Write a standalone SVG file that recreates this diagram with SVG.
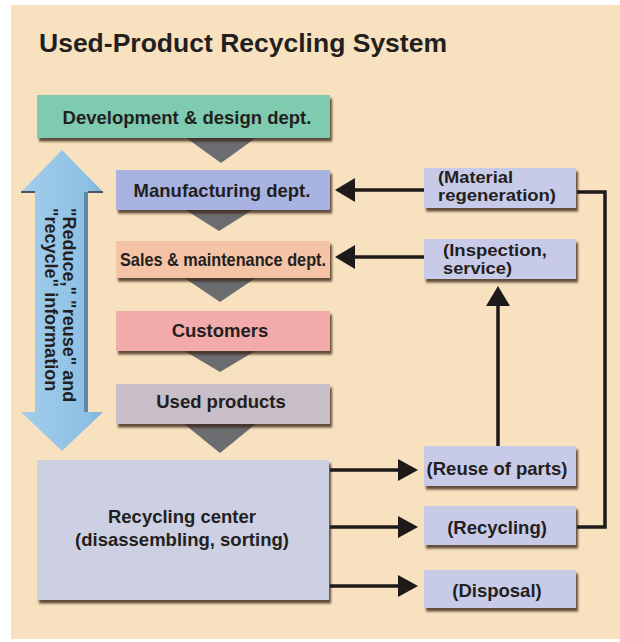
<svg xmlns="http://www.w3.org/2000/svg" width="620" height="642" viewBox="0 0 620 642">
<defs>
<style>
text{font-family:"Liberation Sans",Arial,sans-serif;font-weight:bold;fill:#231f20}
.lbl{font-size:18.5px;text-anchor:middle}
.rl{font-size:16.5px}
.box{filter:url(#sh)}
.tri{fill:#6b6c6f}
.con{fill:none;stroke:#1e1a1a;stroke-width:3.5}
</style>
<filter id="sh" x="-5%" y="-10%" width="115%" height="130%">
<feDropShadow dx="2" dy="3.5" stdDeviation="1.3" flood-color="#3a2614" flood-opacity="0.8"/>
</filter>
<marker id="ah" viewBox="0 0 20 24" refX="0" refY="12" markerWidth="20" markerHeight="24" orient="auto" markerUnits="userSpaceOnUse">
<path d="M0,0 L20,12 L0,24 Z" fill="#1e1a1a"/>
</marker>
<marker id="ah2" viewBox="0 0 20 22" refX="0" refY="11" markerWidth="20" markerHeight="22" orient="auto" markerUnits="userSpaceOnUse">
<path d="M0,0 L20,11 L0,22 Z" fill="#1e1a1a"/>
</marker>
<linearGradient id="blue" x1="0" y1="0" x2="1" y2="0">
<stop offset="0" stop-color="#a3cdec"/>
<stop offset="0.8" stop-color="#8cc0e4"/>
<stop offset="1" stop-color="#7fb2d6"/>
</linearGradient>
</defs>
<rect x="0" y="0" width="620" height="642" fill="#ffffff"/>
<rect x="11" y="5" width="609" height="634" fill="#f8e1bf"/>
<text x="39" y="52" font-size="26.5" textLength="408" lengthAdjust="spacingAndGlyphs">Used-Product Recycling System</text>

<g id="triangles">
<polygon class="tri" points="185,137 257,137 221,163"/>
<polygon class="tri" points="184,209 254,209 219,231"/>
<polygon class="tri" points="183,277 257,277 220,302"/>
<polygon class="tri" points="183,350 257,350 220,372"/>
<polygon class="tri" points="183,423 257,423 220,453"/>
</g>

<g id="info-arrow">
<polygon points="62,150 103,192 88,192 88,412 103,412 62,451 21,412 35,412 35,192 21,192" fill="url(#blue)"/>
<rect x="84" y="192" width="4" height="220" fill="#5f87a6"/>
<path d="M21,192 H35 M88,192 H103" stroke="#4a5560" stroke-width="2"/>
<g transform="translate(63,208) rotate(90)">
<text x="0" y="0" font-size="18">"Reduce," "reuse" and</text>
<text x="0" y="18" font-size="18">"recycle" information</text>
</g>
</g>

<g id="dev">
<rect class="box" x="37" y="95" width="293" height="43" fill="#7fcbb0"/>
<text class="lbl" x="187" y="124">Development &amp; design dept.</text>
</g>
<g id="manufacturing">
<rect class="box" x="116" y="170" width="214" height="40" fill="#a8b3e2"/>
<text class="lbl" x="222" y="197">Manufacturing dept.</text>
</g>
<g id="sales">
<rect class="box" x="116" y="241" width="214" height="37" fill="#f5c3a5"/>
<text class="lbl" x="223" y="266" textLength="206" lengthAdjust="spacingAndGlyphs">Sales &amp; maintenance dept.</text>
</g>
<g id="customers">
<rect class="box" x="116" y="311" width="214" height="40" fill="#f2aaab"/>
<text class="lbl" x="220" y="337">Customers</text>
</g>
<g id="used">
<rect class="box" x="116" y="384" width="214" height="40" fill="#c7bec8"/>
<text class="lbl" x="221" y="408">Used products</text>
</g>
<g id="center">
<rect class="box" x="37" y="460" width="292" height="140" fill="#cdd0e3"/>
<text class="lbl" x="182" y="523">Recycling center</text>
<text class="lbl" x="182" y="546">(disassembling, sorting)</text>
</g>

<g id="material">
<rect class="box" x="424" y="168" width="152" height="40" fill="#c8cbe8"/>
<text class="rl" x="438" y="182.5" textLength="75" lengthAdjust="spacingAndGlyphs">(Material</text>
<text class="rl" x="438" y="201" textLength="118" lengthAdjust="spacingAndGlyphs">regeneration)</text>
</g>
<g id="inspection">
<rect class="box" x="424" y="239" width="152" height="40" fill="#c8cbe8"/>
<text class="rl" x="443" y="255.5" textLength="104" lengthAdjust="spacingAndGlyphs">(Inspection,</text>
<text class="rl" x="443" y="274" textLength="69" lengthAdjust="spacingAndGlyphs">service)</text>
</g>
<g id="reuse">
<rect class="box" x="424" y="446" width="152" height="40" fill="#c8cbe8"/>
<text class="lbl" x="497" y="475">(Reuse of parts)</text>
</g>
<g id="recycling">
<rect class="box" x="424" y="506" width="152" height="39" fill="#c8cbe8"/>
<text class="lbl" x="497" y="534">(Recycling)</text>
</g>
<g id="disposal">
<rect class="box" x="424" y="570" width="152" height="38" fill="#c8cbe8"/>
<text class="lbl" x="497" y="597">(Disposal)</text>
</g>

<g id="connectors">
<path class="con" d="M424,190 H355" marker-end="url(#ah)"/>
<path class="con" d="M424,257 H355" marker-end="url(#ah)"/>
<path class="con" d="M498,446 V306" marker-end="url(#ah)"/>
<path class="con" d="M577,527 H605 V192 H577"/>
<path class="con" d="M330,470 H398" marker-end="url(#ah2)"/>
<path class="con" d="M330,527 H398" marker-end="url(#ah2)"/>
<path class="con" d="M330,586 H398" marker-end="url(#ah2)"/>
</g>
</svg>
